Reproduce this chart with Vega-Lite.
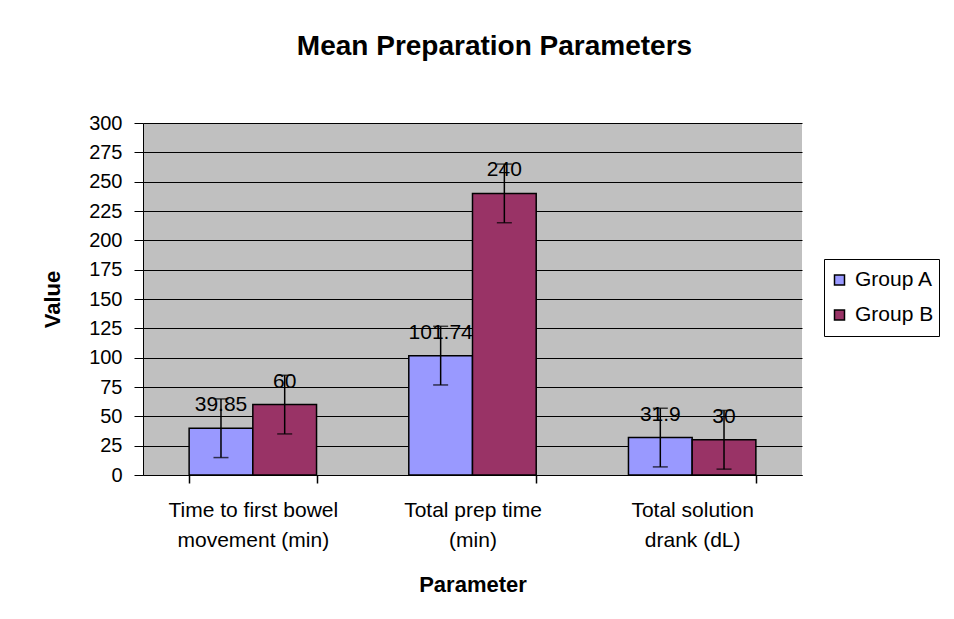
{
  "$schema": "https://vega.github.io/schema/vega-lite/v6.json",
  "width": 659,
  "height": 352,
  "autosize": {"type": "none"},
  "padding": {"left": 143, "top": 123, "right": 152, "bottom": 144},
  "background": "white",
  "title": {
    "text": "Mean Preparation Parameters",
    "font": "Liberation Sans",
    "fontSize": 28,
    "fontWeight": "bold",
    "color": "black",
    "anchor": "middle",
    "frame": "group",
    "offset": 52,
    "dx": 22
  },
  "data": {
    "values": [
      {"parameter": "Time to first bowel movement (min)", "group": "Group A", "value": 39.85, "low": 14.85, "high": 64.85},
      {"parameter": "Time to first bowel movement (min)", "group": "Group B", "value": 60, "low": 35, "high": 85},
      {"parameter": "Total prep time (min)", "group": "Group A", "value": 101.74, "low": 76.74, "high": 126.74},
      {"parameter": "Total prep time (min)", "group": "Group B", "value": 240, "low": 215, "high": 265},
      {"parameter": "Total solution drank (dL)", "group": "Group A", "value": 31.9, "low": 6.9, "high": 56.9},
      {"parameter": "Total solution drank (dL)", "group": "Group B", "value": 30, "low": 5, "high": 55}
    ]
  },
  "encoding": {
    "x": {
      "field": "parameter",
      "type": "nominal",
      "sort": null,
      "scale": {"paddingInner": 0.42, "paddingOuter": 0.21},
      "axis": {
        "orient": "bottom",
        "title": "Parameter",
        "titleFont": "Liberation Sans",
        "titleFontSize": 22,
        "titleFontWeight": "bold",
        "titleColor": "black",
        "titlePadding": 24,
        "labelAngle": 0,
        "labelFont": "Liberation Sans",
        "labelFontSize": 21,
        "labelColor": "black",
        "labelPadding": 16,
        "labelLineHeight": 30,
        "labelExpr": "datum.value == 'Time to first bowel movement (min)' ? ['Time to first bowel', 'movement (min)'] : datum.value == 'Total prep time (min)' ? ['Total prep time', '(min)'] : datum.value == 'Total solution drank (dL)' ? ['Total solution', 'drank (dL)'] : ''",
        "ticks": true,
        "tickBand": "extent",
        "tickExtra": true,
        "tickSize": 8,
        "tickWidth": 1.5,
        "tickOpacity": 1,
        "tickColor": "black",
        "domainColor": "black",
        "grid": false,
        "zindex": 2
      }
    },
    "xOffset": {"field": "group", "type": "nominal", "scale": {"paddingInner": 0, "paddingOuter": 0}}
  },
  "layer": [
    {
      "mark": {"type": "bar", "stroke": "black", "strokeWidth": 1.5},
      "encoding": {
        "y": {
          "field": "value",
          "type": "quantitative",
          "title": "Value",
          "scale": {"domain": [0, 300], "nice": false},
          "axis": {
            "title": "Value",
            "titleFont": "Liberation Sans",
            "titleFontSize": 22,
            "titleFontWeight": "bold",
            "titleColor": "black",
            "titlePadding": 24,
            "values": [0, 25, 50, 75, 100, 125, 150, 175, 200, 225, 250, 275, 300],
            "labelOverlap": false,
            "labelFont": "Liberation Sans",
            "labelFontSize": 20,
            "labelColor": "black",
            "labelPadding": 12,
            "tickSize": 9,
            "tickColor": "black",
            "domainColor": "black",
            "grid": true,
            "gridColor": "black",
            "gridWidth": 1
          }
        },
        "color": {
          "field": "group",
          "type": "nominal",
          "scale": {"domain": ["Group A", "Group B"], "range": ["#9999FF", "#993366"]},
          "legend": {
            "title": null,
            "orient": "none",
            "legendX": 681,
            "legendY": 136,
            "padding": 5,
            "strokeColor": "black",
            "fillColor": "white",
            "symbolType": "square",
            "symbolSize": 100,
            "symbolStrokeColor": "black",
            "symbolStrokeWidth": 1.5,
            "labelFont": "Liberation Sans",
            "labelFontSize": 21,
            "labelColor": "black",
            "labelOffset": 5,
            "clipHeight": 32,
            "rowPadding": 3
          }
        }
      }
    },
    {
      "mark": {"type": "rule", "color": "black", "strokeWidth": 1.5},
      "encoding": {
        "y": {
          "field": "low",
          "type": "quantitative",
          "title": "Value",
          "axis": {
            "title": "Value",
            "titleFont": "Liberation Sans",
            "titleFontSize": 22,
            "titleFontWeight": "bold",
            "titleColor": "black",
            "titlePadding": 24,
            "values": [0, 25, 50, 75, 100, 125, 150, 175, 200, 225, 250, 275, 300],
            "labelOverlap": false,
            "labelFont": "Liberation Sans",
            "labelFontSize": 20,
            "labelColor": "black",
            "labelPadding": 12,
            "tickSize": 9,
            "tickColor": "black",
            "domainColor": "black",
            "grid": true,
            "gridColor": "black",
            "gridWidth": 1
          }
        },
        "y2": {"field": "high"}
      }
    },
    {
      "mark": {"type": "tick", "color": "black", "thickness": 1.5, "size": 15},
      "encoding": {
        "y": {
          "field": "low",
          "type": "quantitative",
          "title": "Value",
          "axis": {
            "title": "Value",
            "titleFont": "Liberation Sans",
            "titleFontSize": 22,
            "titleFontWeight": "bold",
            "titleColor": "black",
            "titlePadding": 24,
            "values": [0, 25, 50, 75, 100, 125, 150, 175, 200, 225, 250, 275, 300],
            "labelOverlap": false,
            "labelFont": "Liberation Sans",
            "labelFontSize": 20,
            "labelColor": "black",
            "labelPadding": 12,
            "tickSize": 9,
            "tickColor": "black",
            "domainColor": "black",
            "grid": true,
            "gridColor": "black",
            "gridWidth": 1
          }
        }
      }
    },
    {
      "mark": {"type": "tick", "color": "black", "thickness": 1.5, "size": 15},
      "encoding": {
        "y": {
          "field": "high",
          "type": "quantitative",
          "title": "Value",
          "axis": {
            "title": "Value",
            "titleFont": "Liberation Sans",
            "titleFontSize": 22,
            "titleFontWeight": "bold",
            "titleColor": "black",
            "titlePadding": 24,
            "values": [0, 25, 50, 75, 100, 125, 150, 175, 200, 225, 250, 275, 300],
            "labelOverlap": false,
            "labelFont": "Liberation Sans",
            "labelFontSize": 20,
            "labelColor": "black",
            "labelPadding": 12,
            "tickSize": 9,
            "tickColor": "black",
            "domainColor": "black",
            "grid": true,
            "gridColor": "black",
            "gridWidth": 1
          }
        }
      }
    },
    {
      "mark": {"type": "text", "font": "Liberation Sans", "fontSize": 21, "color": "black", "baseline": "alphabetic", "dy": -17},
      "encoding": {
        "y": {
          "field": "value",
          "type": "quantitative",
          "title": "Value",
          "axis": {
            "title": "Value",
            "titleFont": "Liberation Sans",
            "titleFontSize": 22,
            "titleFontWeight": "bold",
            "titleColor": "black",
            "titlePadding": 24,
            "values": [0, 25, 50, 75, 100, 125, 150, 175, 200, 225, 250, 275, 300],
            "labelOverlap": false,
            "labelFont": "Liberation Sans",
            "labelFontSize": 20,
            "labelColor": "black",
            "labelPadding": 12,
            "tickSize": 9,
            "tickColor": "black",
            "domainColor": "black",
            "grid": true,
            "gridColor": "black",
            "gridWidth": 1
          }
        },
        "text": {"field": "value", "type": "quantitative"}
      }
    }
  ],
  "config": {
    "font": "Liberation Sans",
    "view": {"fill": "#C0C0C0", "stroke": null}
  }
}
